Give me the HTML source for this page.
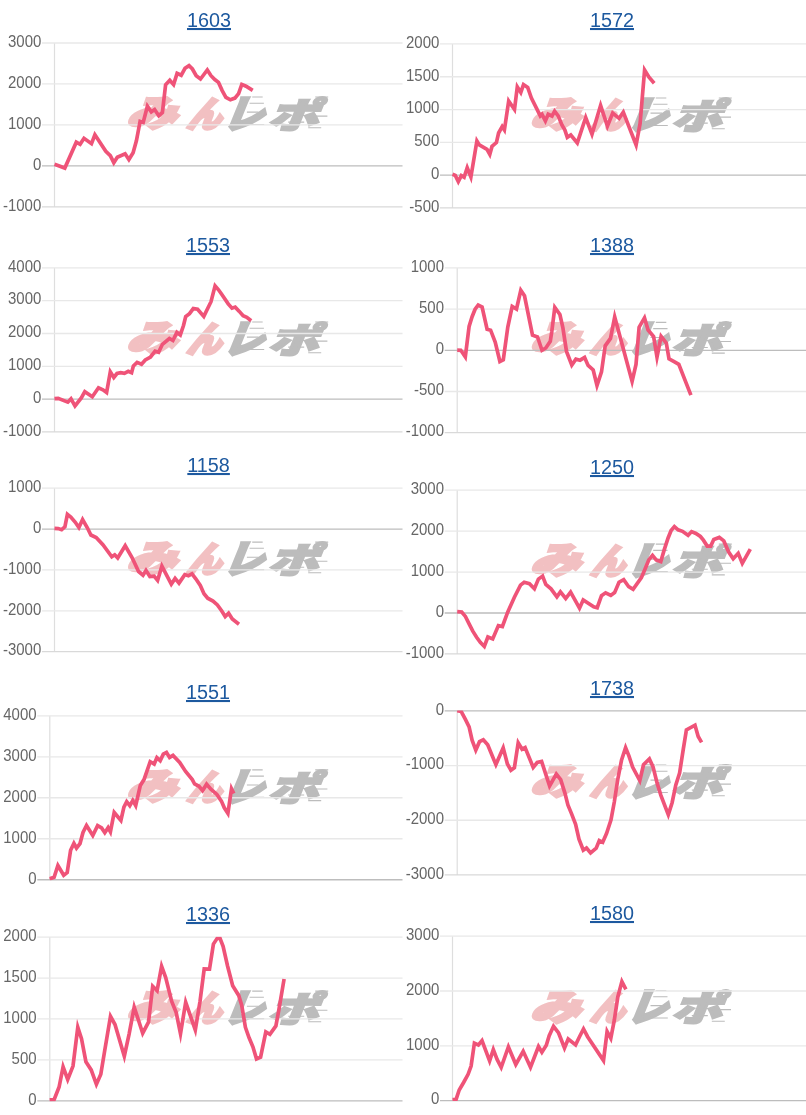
<!DOCTYPE html>
<html lang="ja"><head><meta charset="utf-8"><title>みんレポ</title>
<style>
html,body{margin:0;padding:0;background:#fff}
body{width:806px;height:1115px;position:relative;overflow:hidden;font-family:"Liberation Sans","Noto Sans CJK JP",sans-serif}
svg{position:absolute;left:0;top:0}
.lb{font-size:15px;fill:#666;text-anchor:end}
a.tt{position:absolute;font-size:19.8px;line-height:24px;color:#1d599f;text-decoration:underline;text-decoration-thickness:2px;text-underline-offset:1px;transform:translateX(-50%) scaleY(1.04);transform-origin:50% 85%;white-space:nowrap}
.wm{font-family:"Noto Sans CJK JP","Liberation Sans",sans-serif;font-weight:900}
.ln{fill:none;stroke:#ef5378;stroke-width:3.7;stroke-linejoin:miter;stroke-miterlimit:10;stroke-linecap:butt}
</style></head><body>
<svg width="806" height="1115" viewBox="0 0 806 1115">
<g>
<text class="wm" transform="translate(128.2,96.1) skewX(-22)"><tspan x="10.23" y="29.90" font-size="35.71" textLength="49.53" lengthAdjust="spacingAndGlyphs" fill="#f2c0c2" stroke="#f2c0c2" stroke-width="3.2">み</tspan><tspan x="70.32" y="30.50" font-size="35.14" textLength="34.05" lengthAdjust="spacingAndGlyphs" fill="#f2c0c2" stroke="#f2c0c2" stroke-width="3.2">ん</tspan><tspan x="106.40" y="31.55" font-size="39.67" textLength="40.78" lengthAdjust="spacingAndGlyphs" fill="#bcbcbc" stroke="#bcbcbc" stroke-width="2.6">レ</tspan><tspan x="152.12" y="31.85" font-size="35.3" textLength="50.34" lengthAdjust="spacingAndGlyphs" fill="#bcbcbc" stroke="#bcbcbc" stroke-width="2.2">ポ</tspan></text>
<path d="M252.2 97.0H262.7M249.6 103.2H263.9M246.9 112.1H258.5M240.2 124.5H264.2M315.2 97.0H328.2M306.9 105.2H320.6M298.2 110.7H320.6M315.2 116.1H327.4M308.2 127.7H321.2M288.2 122.1H304.2" stroke="#bcbcbc" stroke-width="1.1" fill="none"/>
<line x1="54.5" y1="43.0" x2="54.5" y2="206.8" stroke="#dedede" stroke-width="1.2"/>
<line x1="42.0" y1="43.0" x2="402.5" y2="43.0" stroke="#e8e8e8" stroke-width="1.3"/>
<text class="lb" transform="translate(41.3,46.7) scale(1,1.05)">3000</text>
<line x1="42.0" y1="83.95" x2="402.5" y2="83.95" stroke="#e8e8e8" stroke-width="1.3"/>
<text class="lb" transform="translate(41.3,87.7) scale(1,1.05)">2000</text>
<line x1="42.0" y1="124.9" x2="402.5" y2="124.9" stroke="#e8e8e8" stroke-width="1.3"/>
<text class="lb" transform="translate(41.3,128.6) scale(1,1.05)">1000</text>
<line x1="42.0" y1="165.85" x2="402.5" y2="165.85" stroke="#bdbdbd" stroke-width="1.3"/>
<text class="lb" transform="translate(41.3,169.5) scale(1,1.05)">0</text>
<line x1="42.0" y1="206.8" x2="402.5" y2="206.8" stroke="#d9d9d9" stroke-width="1.3"/>
<text class="lb" transform="translate(41.3,210.5) scale(1,1.05)">-1000</text>
<clipPath id="c1603"><rect x="54.0" y="42.7" width="349.0" height="164.6"/></clipPath>
<polyline class="ln" clip-path="url(#c1603)" points="54.5,164.3 64.8,168.1 76.3,142.2 80.1,144.3 84.0,138.3 91.5,143.7 94.9,134.8 105.8,151.2 110.3,155.7 113.8,162.7 117.3,157.2 125.1,153.8 128.9,159.5 133.1,152.7 136.4,140.8 140.1,121.4 143.2,122.4 147.4,106.2 151.3,111.8 154.6,109.5 158.8,115.7 162.4,112.5 165.6,84.7 169.8,80.2 173.6,84.6 177.1,73.4 181.2,75.3 185.0,68.3 189.0,65.6 192.4,69.0 196.2,75.7 200.5,79.0 207.3,69.9 211.0,75.7 214.8,79.5 218.5,82.4 222.2,90.6 225.9,97.3 230.4,99.8 234.9,98.1 238.6,93.6 241.8,84.4 246.0,86.2 252.7,90.3"/>
</g>
<g>
<text class="wm" transform="translate(531.8,97.1) skewX(-22)"><tspan x="10.23" y="29.90" font-size="35.71" textLength="49.53" lengthAdjust="spacingAndGlyphs" fill="#f2c0c2" stroke="#f2c0c2" stroke-width="3.2">み</tspan><tspan x="70.32" y="30.50" font-size="35.14" textLength="34.05" lengthAdjust="spacingAndGlyphs" fill="#f2c0c2" stroke="#f2c0c2" stroke-width="3.2">ん</tspan><tspan x="106.40" y="31.55" font-size="39.67" textLength="40.78" lengthAdjust="spacingAndGlyphs" fill="#bcbcbc" stroke="#bcbcbc" stroke-width="2.6">レ</tspan><tspan x="152.12" y="31.85" font-size="35.3" textLength="50.34" lengthAdjust="spacingAndGlyphs" fill="#bcbcbc" stroke="#bcbcbc" stroke-width="2.2">ポ</tspan></text>
<path d="M655.8 98.0H666.3M653.2 104.2H667.5M650.5 113.1H662.1M643.8 125.5H667.8M718.8 98.0H731.8M710.5 106.2H724.2M701.8 111.7H724.2M718.8 117.1H731.0M711.8 128.7H724.8M691.8 123.1H707.8" stroke="#bcbcbc" stroke-width="1.1" fill="none"/>
<line x1="452.5" y1="43.96" x2="452.5" y2="207.9" stroke="#dedede" stroke-width="1.2"/>
<line x1="440.0" y1="43.96" x2="806" y2="43.96" stroke="#e8e8e8" stroke-width="1.3"/>
<text class="lb" transform="translate(439.3,47.7) scale(1,1.05)">2000</text>
<line x1="440.0" y1="76.75" x2="806" y2="76.75" stroke="#e8e8e8" stroke-width="1.3"/>
<text class="lb" transform="translate(439.3,80.5) scale(1,1.05)">1500</text>
<line x1="440.0" y1="109.54" x2="806" y2="109.54" stroke="#e8e8e8" stroke-width="1.3"/>
<text class="lb" transform="translate(439.3,113.2) scale(1,1.05)">1000</text>
<line x1="440.0" y1="142.32" x2="806" y2="142.32" stroke="#e8e8e8" stroke-width="1.3"/>
<text class="lb" transform="translate(439.3,146.0) scale(1,1.05)">500</text>
<line x1="440.0" y1="175.11" x2="806" y2="175.11" stroke="#bdbdbd" stroke-width="1.3"/>
<text class="lb" transform="translate(439.3,178.8) scale(1,1.05)">0</text>
<line x1="440.0" y1="207.9" x2="806" y2="207.9" stroke="#d9d9d9" stroke-width="1.3"/>
<text class="lb" transform="translate(439.3,211.6) scale(1,1.05)">-500</text>
<clipPath id="c1572"><rect x="452.0" y="43.660000000000004" width="354.5" height="164.7"/></clipPath>
<polyline class="ln" clip-path="url(#c1572)" points="452.5,174.3 455.3,175.5 458.3,181.6 461.3,175.6 464.1,177.2 467.2,167.7 470.9,177.0 476.9,140.9 479.3,144.9 487.0,149.3 489.8,154.4 492.0,146.4 496.4,142.6 498.6,133.0 502.2,126.5 504.4,129.9 508.7,101.0 514.5,109.5 517.3,86.8 520.8,92.4 523.5,84.6 527.7,87.5 531.4,98.0 540.3,115.9 542.0,114.3 545.4,120.9 548.2,114.3 552.0,116.0 554.6,111.1 558.2,115.9 561.9,124.9 564.9,130.1 567.3,137.4 570.8,135.0 577.3,142.9 579.8,135.3 585.7,117.5 592.0,134.2 600.6,105.4 607.4,126.2 612.7,113.0 619.1,118.3 623.3,112.1 636.1,145.0 640.1,123.4 644.6,70.0 649.0,77.2 654.2,83.2"/>
</g>
<g>
<text class="wm" transform="translate(128.2,321.1) skewX(-22)"><tspan x="10.23" y="29.90" font-size="35.71" textLength="49.53" lengthAdjust="spacingAndGlyphs" fill="#f2c0c2" stroke="#f2c0c2" stroke-width="3.2">み</tspan><tspan x="70.32" y="30.50" font-size="35.14" textLength="34.05" lengthAdjust="spacingAndGlyphs" fill="#f2c0c2" stroke="#f2c0c2" stroke-width="3.2">ん</tspan><tspan x="106.40" y="31.55" font-size="39.67" textLength="40.78" lengthAdjust="spacingAndGlyphs" fill="#bcbcbc" stroke="#bcbcbc" stroke-width="2.6">レ</tspan><tspan x="152.12" y="31.85" font-size="35.3" textLength="50.34" lengthAdjust="spacingAndGlyphs" fill="#bcbcbc" stroke="#bcbcbc" stroke-width="2.2">ポ</tspan></text>
<path d="M252.2 322.0H262.7M249.6 328.2H263.9M246.9 337.1H258.5M240.2 349.5H264.2M315.2 322.0H328.2M306.9 330.2H320.6M298.2 335.7H320.6M315.2 341.1H327.4M308.2 352.7H321.2M288.2 347.1H304.2" stroke="#bcbcbc" stroke-width="1.1" fill="none"/>
<line x1="54.5" y1="267.9" x2="54.5" y2="431.9" stroke="#dedede" stroke-width="1.2"/>
<line x1="42.0" y1="267.9" x2="402.5" y2="267.9" stroke="#e8e8e8" stroke-width="1.3"/>
<text class="lb" transform="translate(41.3,271.6) scale(1,1.05)">4000</text>
<line x1="42.0" y1="300.7" x2="402.5" y2="300.7" stroke="#e8e8e8" stroke-width="1.3"/>
<text class="lb" transform="translate(41.3,304.4) scale(1,1.05)">3000</text>
<line x1="42.0" y1="333.5" x2="402.5" y2="333.5" stroke="#e8e8e8" stroke-width="1.3"/>
<text class="lb" transform="translate(41.3,337.2) scale(1,1.05)">2000</text>
<line x1="42.0" y1="366.3" x2="402.5" y2="366.3" stroke="#e8e8e8" stroke-width="1.3"/>
<text class="lb" transform="translate(41.3,370.0) scale(1,1.05)">1000</text>
<line x1="42.0" y1="399.1" x2="402.5" y2="399.1" stroke="#bdbdbd" stroke-width="1.3"/>
<text class="lb" transform="translate(41.3,402.8) scale(1,1.05)">0</text>
<line x1="42.0" y1="431.9" x2="402.5" y2="431.9" stroke="#d9d9d9" stroke-width="1.3"/>
<text class="lb" transform="translate(41.3,435.6) scale(1,1.05)">-1000</text>
<clipPath id="c1553"><rect x="54.0" y="267.59999999999997" width="349.0" height="164.8"/></clipPath>
<polyline class="ln" clip-path="url(#c1553)" points="54.5,398.7 58.2,398.4 67.8,402.2 71.0,398.9 75.0,405.9 81.3,397.9 84.8,391.7 92.3,396.7 98.5,387.8 102.9,389.8 106.6,392.5 110.3,371.8 113.8,377.5 117.0,373.5 120.7,372.6 124.4,373.3 128.2,371.3 131.6,372.8 133.4,365.9 137.1,362.4 141.5,364.2 145.3,360.0 150.5,357.0 155.1,351.2 158.6,352.2 162.4,344.3 169.4,338.5 172.9,340.5 176.9,332.4 180.3,334.9 183.5,325.5 185.7,316.6 189.5,313.6 193.3,308.6 197.6,309.2 203.8,316.4 211.0,301.7 215.1,285.9 218.5,289.8 222.2,295.0 228.2,303.9 232.0,308.2 235.2,307.1 239.3,311.4 243.1,315.8 246.8,317.3 251.2,320.7"/>
</g>
<g>
<text class="wm" transform="translate(531.8,321.5) skewX(-22)"><tspan x="10.23" y="29.90" font-size="35.71" textLength="49.53" lengthAdjust="spacingAndGlyphs" fill="#f2c0c2" stroke="#f2c0c2" stroke-width="3.2">み</tspan><tspan x="70.32" y="30.50" font-size="35.14" textLength="34.05" lengthAdjust="spacingAndGlyphs" fill="#f2c0c2" stroke="#f2c0c2" stroke-width="3.2">ん</tspan><tspan x="106.40" y="31.55" font-size="39.67" textLength="40.78" lengthAdjust="spacingAndGlyphs" fill="#bcbcbc" stroke="#bcbcbc" stroke-width="2.6">レ</tspan><tspan x="152.12" y="31.85" font-size="35.3" textLength="50.34" lengthAdjust="spacingAndGlyphs" fill="#bcbcbc" stroke="#bcbcbc" stroke-width="2.2">ポ</tspan></text>
<path d="M655.8 322.4H666.3M653.2 328.6H667.5M650.5 337.5H662.1M643.8 349.9H667.8M718.8 322.4H731.8M710.5 330.6H724.2M701.8 336.1H724.2M718.8 341.5H731.0M711.8 353.1H724.8M691.8 347.5H707.8" stroke="#bcbcbc" stroke-width="1.1" fill="none"/>
<line x1="457.2" y1="267.9" x2="457.2" y2="432.7" stroke="#dedede" stroke-width="1.2"/>
<line x1="444.7" y1="267.9" x2="806" y2="267.9" stroke="#e8e8e8" stroke-width="1.3"/>
<text class="lb" transform="translate(444.0,271.6) scale(1,1.05)">1000</text>
<line x1="444.7" y1="309.1" x2="806" y2="309.1" stroke="#e8e8e8" stroke-width="1.3"/>
<text class="lb" transform="translate(444.0,312.8) scale(1,1.05)">500</text>
<line x1="444.7" y1="350.3" x2="806" y2="350.3" stroke="#bdbdbd" stroke-width="1.3"/>
<text class="lb" transform="translate(444.0,354.0) scale(1,1.05)">0</text>
<line x1="444.7" y1="391.5" x2="806" y2="391.5" stroke="#e8e8e8" stroke-width="1.3"/>
<text class="lb" transform="translate(444.0,395.2) scale(1,1.05)">-500</text>
<line x1="444.7" y1="432.7" x2="806" y2="432.7" stroke="#d9d9d9" stroke-width="1.3"/>
<text class="lb" transform="translate(444.0,436.4) scale(1,1.05)">-1000</text>
<clipPath id="c1388"><rect x="456.7" y="267.59999999999997" width="349.8" height="165.6"/></clipPath>
<polyline class="ln" clip-path="url(#c1388)" points="457.2,350.2 460.8,350.3 465.3,356.9 469.1,326.4 472.1,316.7 475.1,309.2 478.2,305.1 482.1,307.1 487.1,329.2 490.6,330.2 495.2,342.0 499.9,361.5 503.3,359.8 507.8,327.1 512.2,306.4 516.5,309.0 520.8,290.3 524.5,295.8 532.5,335.2 537.5,336.9 542.0,350.3 545.8,348.0 550.3,341.3 551.8,331.6 554.8,307.4 559.9,314.5 562.9,327.9 566.5,351.4 571.8,365.0 575.9,359.2 580.1,360.2 584.6,357.5 588.1,365.4 593.2,370.0 597.0,385.5 601.5,371.9 605.2,345.8 610.5,338.4 614.7,317.0 632.1,381.4 636.0,364.4 639.1,327.2 644.5,317.8 648.1,330.0 653.6,336.5 657.0,357.1 661.1,336.4 666.3,343.0 669.0,358.8 674.1,361.7 678.8,364.4 690.9,395.1"/>
</g>
<g>
<text class="wm" transform="translate(128.2,541.2) skewX(-22)"><tspan x="10.23" y="29.90" font-size="35.71" textLength="49.53" lengthAdjust="spacingAndGlyphs" fill="#f2c0c2" stroke="#f2c0c2" stroke-width="3.2">み</tspan><tspan x="70.32" y="30.50" font-size="35.14" textLength="34.05" lengthAdjust="spacingAndGlyphs" fill="#f2c0c2" stroke="#f2c0c2" stroke-width="3.2">ん</tspan><tspan x="106.40" y="31.55" font-size="39.67" textLength="40.78" lengthAdjust="spacingAndGlyphs" fill="#bcbcbc" stroke="#bcbcbc" stroke-width="2.6">レ</tspan><tspan x="152.12" y="31.85" font-size="35.3" textLength="50.34" lengthAdjust="spacingAndGlyphs" fill="#bcbcbc" stroke="#bcbcbc" stroke-width="2.2">ポ</tspan></text>
<path d="M252.2 542.1H262.7M249.6 548.3H263.9M246.9 557.2H258.5M240.2 569.6H264.2M315.2 542.1H328.2M306.9 550.3H320.6M298.2 555.8H320.6M315.2 561.2H327.4M308.2 572.8H321.2M288.2 567.2H304.2" stroke="#bcbcbc" stroke-width="1.1" fill="none"/>
<line x1="54.5" y1="488.2" x2="54.5" y2="651.7" stroke="#dedede" stroke-width="1.2"/>
<line x1="42.0" y1="488.2" x2="402.5" y2="488.2" stroke="#e8e8e8" stroke-width="1.3"/>
<text class="lb" transform="translate(41.3,491.9) scale(1,1.05)">1000</text>
<line x1="42.0" y1="529.08" x2="402.5" y2="529.08" stroke="#bdbdbd" stroke-width="1.3"/>
<text class="lb" transform="translate(41.3,532.8) scale(1,1.05)">0</text>
<line x1="42.0" y1="569.95" x2="402.5" y2="569.95" stroke="#e8e8e8" stroke-width="1.3"/>
<text class="lb" transform="translate(41.3,573.7) scale(1,1.05)">-1000</text>
<line x1="42.0" y1="610.83" x2="402.5" y2="610.83" stroke="#e8e8e8" stroke-width="1.3"/>
<text class="lb" transform="translate(41.3,614.5) scale(1,1.05)">-2000</text>
<line x1="42.0" y1="651.7" x2="402.5" y2="651.7" stroke="#d9d9d9" stroke-width="1.3"/>
<text class="lb" transform="translate(41.3,655.4) scale(1,1.05)">-3000</text>
<clipPath id="c1158"><rect x="54.0" y="487.9" width="349.0" height="164.3"/></clipPath>
<polyline class="ln" clip-path="url(#c1158)" points="54.5,528.3 58.2,528.6 61.6,529.7 64.9,526.8 67.4,514.4 70.8,517.1 75.3,522.3 78.9,527.6 82.6,519.5 87.2,527.5 90.9,535.0 96.2,537.5 102.9,544.7 111.8,556.8 114.7,554.8 117.7,557.9 125.2,545.7 131.9,557.3 138.6,571.5 143.0,575.2 146.0,570.5 149.9,576.5 154.1,576.1 157.6,580.4 161.9,566.1 171.3,584.2 175.1,578.4 179.0,583.1 184.8,574.6 188.4,575.7 192.0,573.9 195.8,578.8 200.3,585.5 204.0,593.7 207.7,598.2 213.0,601.1 217.4,604.9 221.6,610.8 225.2,616.6 228.6,613.2 232.3,619.0 239.0,624.2"/>
</g>
<g>
<text class="wm" transform="translate(531.8,543.2) skewX(-22)"><tspan x="10.23" y="29.90" font-size="35.71" textLength="49.53" lengthAdjust="spacingAndGlyphs" fill="#f2c0c2" stroke="#f2c0c2" stroke-width="3.2">み</tspan><tspan x="70.32" y="30.50" font-size="35.14" textLength="34.05" lengthAdjust="spacingAndGlyphs" fill="#f2c0c2" stroke="#f2c0c2" stroke-width="3.2">ん</tspan><tspan x="106.40" y="31.55" font-size="39.67" textLength="40.78" lengthAdjust="spacingAndGlyphs" fill="#bcbcbc" stroke="#bcbcbc" stroke-width="2.6">レ</tspan><tspan x="152.12" y="31.85" font-size="35.3" textLength="50.34" lengthAdjust="spacingAndGlyphs" fill="#bcbcbc" stroke="#bcbcbc" stroke-width="2.2">ポ</tspan></text>
<path d="M655.8 544.1H666.3M653.2 550.4H667.5M650.5 559.2H662.1M643.8 571.6H667.8M718.8 544.1H731.8M710.5 552.4H724.2M701.8 557.9H724.2M718.8 563.2H731.0M711.8 574.9H724.8M691.8 569.2H707.8" stroke="#bcbcbc" stroke-width="1.1" fill="none"/>
<line x1="457.2" y1="490.2" x2="457.2" y2="653.9" stroke="#dedede" stroke-width="1.2"/>
<line x1="444.7" y1="490.2" x2="806" y2="490.2" stroke="#e8e8e8" stroke-width="1.3"/>
<text class="lb" transform="translate(444.0,493.9) scale(1,1.05)">3000</text>
<line x1="444.7" y1="531.12" x2="806" y2="531.12" stroke="#e8e8e8" stroke-width="1.3"/>
<text class="lb" transform="translate(444.0,534.8) scale(1,1.05)">2000</text>
<line x1="444.7" y1="572.05" x2="806" y2="572.05" stroke="#e8e8e8" stroke-width="1.3"/>
<text class="lb" transform="translate(444.0,575.8) scale(1,1.05)">1000</text>
<line x1="444.7" y1="612.98" x2="806" y2="612.98" stroke="#bdbdbd" stroke-width="1.3"/>
<text class="lb" transform="translate(444.0,616.7) scale(1,1.05)">0</text>
<line x1="444.7" y1="653.9" x2="806" y2="653.9" stroke="#d9d9d9" stroke-width="1.3"/>
<text class="lb" transform="translate(444.0,657.6) scale(1,1.05)">-1000</text>
<clipPath id="c1250"><rect x="456.7" y="489.9" width="349.8" height="164.5"/></clipPath>
<polyline class="ln" clip-path="url(#c1250)" points="457.2,611.6 461.7,612.0 465.4,616.4 469.1,623.8 472.8,631.2 476.6,637.2 480.3,642.4 484.3,646.5 487.9,637.0 492.7,638.9 498.4,625.6 502.4,626.5 507.8,611.9 514.5,597.0 520.5,585.1 524.2,582.2 529.4,583.6 534.4,588.7 538.4,579.1 542.6,576.1 545.8,584.3 551.0,588.8 556.9,596.8 560.4,591.9 565.7,598.5 570.6,592.1 579.5,608.2 583.2,599.9 593.7,606.8 597.2,607.7 601.5,595.6 605.6,592.8 610.8,595.4 614.6,592.6 619.0,582.2 623.7,579.6 628.7,586.7 633.1,589.3 641.4,577.7 645.8,567.3 648.8,559.9 652.5,555.4 656.2,559.9 660.8,561.6 664.2,549.9 668.1,538.0 671.1,530.5 674.4,526.6 678.1,529.8 682.5,531.3 688.1,535.3 691.6,531.6 695.9,533.5 700.4,536.5 703.4,540.2 707.2,546.1 710.7,546.1 713.8,539.5 719.3,537.4 723.8,540.9 728.7,552.1 733.2,558.8 738.2,553.3 742.3,563.3 750.3,549.1"/>
</g>
<g>
<text class="wm" transform="translate(128.2,769.0) skewX(-22)"><tspan x="10.23" y="29.90" font-size="35.71" textLength="49.53" lengthAdjust="spacingAndGlyphs" fill="#f2c0c2" stroke="#f2c0c2" stroke-width="3.2">み</tspan><tspan x="70.32" y="30.50" font-size="35.14" textLength="34.05" lengthAdjust="spacingAndGlyphs" fill="#f2c0c2" stroke="#f2c0c2" stroke-width="3.2">ん</tspan><tspan x="106.40" y="31.55" font-size="39.67" textLength="40.78" lengthAdjust="spacingAndGlyphs" fill="#bcbcbc" stroke="#bcbcbc" stroke-width="2.6">レ</tspan><tspan x="152.12" y="31.85" font-size="35.3" textLength="50.34" lengthAdjust="spacingAndGlyphs" fill="#bcbcbc" stroke="#bcbcbc" stroke-width="2.2">ポ</tspan></text>
<path d="M252.2 769.9H262.7M249.6 776.1H263.9M246.9 785.0H258.5M240.2 797.4H264.2M315.2 769.9H328.2M306.9 778.1H320.6M298.2 783.6H320.6M315.2 789.0H327.4M308.2 800.6H321.2M288.2 795.0H304.2" stroke="#bcbcbc" stroke-width="1.1" fill="none"/>
<line x1="49.8" y1="715.8" x2="49.8" y2="879.75" stroke="#dedede" stroke-width="1.2"/>
<line x1="37.3" y1="715.8" x2="402.5" y2="715.8" stroke="#e8e8e8" stroke-width="1.3"/>
<text class="lb" transform="translate(36.6,719.5) scale(1,1.05)">4000</text>
<line x1="37.3" y1="756.79" x2="402.5" y2="756.79" stroke="#e8e8e8" stroke-width="1.3"/>
<text class="lb" transform="translate(36.6,760.5) scale(1,1.05)">3000</text>
<line x1="37.3" y1="797.77" x2="402.5" y2="797.77" stroke="#e8e8e8" stroke-width="1.3"/>
<text class="lb" transform="translate(36.6,801.5) scale(1,1.05)">2000</text>
<line x1="37.3" y1="838.76" x2="402.5" y2="838.76" stroke="#e8e8e8" stroke-width="1.3"/>
<text class="lb" transform="translate(36.6,842.5) scale(1,1.05)">1000</text>
<line x1="37.3" y1="879.75" x2="402.5" y2="879.75" stroke="#bdbdbd" stroke-width="1.3"/>
<text class="lb" transform="translate(36.6,883.5) scale(1,1.05)">0</text>
<clipPath id="c1551"><rect x="49.3" y="715.5" width="353.7" height="164.8"/></clipPath>
<polyline class="ln" clip-path="url(#c1551)" points="49.5,878.9 54.1,877.3 57.9,865.5 63.7,875.3 67.2,872.6 70.6,850.3 73.9,843.4 76.5,848.2 80.0,843.6 83.0,832.4 86.5,825.5 92.8,835.5 97.6,825.6 101.6,828.0 104.8,832.7 108.1,827.7 110.4,831.9 114.2,812.5 120.9,820.5 123.9,807.1 126.7,801.7 129.8,805.6 132.8,800.4 135.7,805.6 140.3,785.5 144.0,779.6 150.2,761.7 154.2,764.0 156.9,757.7 160.2,760.7 163.3,754.2 166.5,752.5 169.6,757.4 173.0,755.4 179.7,762.4 185.6,771.4 192.3,779.6 194.6,784.0 199.0,786.3 202.6,790.6 206.6,784.2 210.9,789.2 216.9,794.4 221.4,801.1 224.3,807.8 227.9,813.4 231.5,788.7 233.8,793.5"/>
</g>
<g>
<text class="wm" transform="translate(531.8,764.1) skewX(-22)"><tspan x="10.23" y="29.90" font-size="35.71" textLength="49.53" lengthAdjust="spacingAndGlyphs" fill="#f2c0c2" stroke="#f2c0c2" stroke-width="3.2">み</tspan><tspan x="70.32" y="30.50" font-size="35.14" textLength="34.05" lengthAdjust="spacingAndGlyphs" fill="#f2c0c2" stroke="#f2c0c2" stroke-width="3.2">ん</tspan><tspan x="106.40" y="31.55" font-size="39.67" textLength="40.78" lengthAdjust="spacingAndGlyphs" fill="#bcbcbc" stroke="#bcbcbc" stroke-width="2.6">レ</tspan><tspan x="152.12" y="31.85" font-size="35.3" textLength="50.34" lengthAdjust="spacingAndGlyphs" fill="#bcbcbc" stroke="#bcbcbc" stroke-width="2.2">ポ</tspan></text>
<path d="M655.8 765.0H666.3M653.2 771.2H667.5M650.5 780.1H662.1M643.8 792.5H667.8M718.8 765.0H731.8M710.5 773.2H724.2M701.8 778.7H724.2M718.8 784.1H731.0M711.8 795.7H724.8M691.8 790.1H707.8" stroke="#bcbcbc" stroke-width="1.1" fill="none"/>
<line x1="457.2" y1="710.9" x2="457.2" y2="874.9" stroke="#dedede" stroke-width="1.2"/>
<line x1="444.7" y1="710.9" x2="806" y2="710.9" stroke="#bdbdbd" stroke-width="1.3"/>
<text class="lb" transform="translate(444.0,714.6) scale(1,1.05)">0</text>
<line x1="444.7" y1="765.57" x2="806" y2="765.57" stroke="#e8e8e8" stroke-width="1.3"/>
<text class="lb" transform="translate(444.0,769.3) scale(1,1.05)">-1000</text>
<line x1="444.7" y1="820.23" x2="806" y2="820.23" stroke="#e8e8e8" stroke-width="1.3"/>
<text class="lb" transform="translate(444.0,823.9) scale(1,1.05)">-2000</text>
<line x1="444.7" y1="874.9" x2="806" y2="874.9" stroke="#d9d9d9" stroke-width="1.3"/>
<text class="lb" transform="translate(444.0,878.6) scale(1,1.05)">-3000</text>
<clipPath id="c1738"><rect x="456.7" y="710.6" width="349.8" height="164.8"/></clipPath>
<polyline class="ln" clip-path="url(#c1738)" points="457.2,710.7 461.1,711.3 465.4,719.4 469.1,726.8 472.1,740.2 475.8,750.1 479.5,741.7 483.3,739.8 487.7,744.7 495.9,764.6 503.2,747.8 507.4,764.0 510.9,770.2 514.4,767.7 518.2,742.8 522.1,749.2 525.1,747.6 533.2,767.4 537.2,762.5 541.6,761.4 545.8,774.4 549.6,786.0 556.3,774.0 560.7,779.7 564.9,793.1 567.9,805.0 571.6,813.9 575.6,824.3 579.0,839.2 583.3,850.2 586.5,848.0 590.6,852.9 596.2,848.2 599.3,840.6 602.7,842.3 606.6,833.3 611.0,819.9 614.3,802.0 617.7,779.7 621.5,760.3 625.6,747.7 628.9,755.8 632.6,767.0 639.8,780.6 643.5,764.8 649.4,758.9 653.1,767.0 657.2,783.4 660.9,795.3 668.3,814.6 672.1,802.7 675.8,784.9 679.6,773.0 683.3,749.1 686.4,729.9 695.0,725.2 698.2,736.5 701.6,742.4"/>
</g>
<g>
<text class="wm" transform="translate(128.2,990.2) skewX(-22)"><tspan x="10.23" y="29.90" font-size="35.71" textLength="49.53" lengthAdjust="spacingAndGlyphs" fill="#f2c0c2" stroke="#f2c0c2" stroke-width="3.2">み</tspan><tspan x="70.32" y="30.50" font-size="35.14" textLength="34.05" lengthAdjust="spacingAndGlyphs" fill="#f2c0c2" stroke="#f2c0c2" stroke-width="3.2">ん</tspan><tspan x="106.40" y="31.55" font-size="39.67" textLength="40.78" lengthAdjust="spacingAndGlyphs" fill="#bcbcbc" stroke="#bcbcbc" stroke-width="2.6">レ</tspan><tspan x="152.12" y="31.85" font-size="35.3" textLength="50.34" lengthAdjust="spacingAndGlyphs" fill="#bcbcbc" stroke="#bcbcbc" stroke-width="2.2">ポ</tspan></text>
<path d="M252.2 991.1H262.7M249.6 997.3H263.9M246.9 1006.2H258.5M240.2 1018.6H264.2M315.2 991.1H328.2M306.9 999.3H320.6M298.2 1004.8H320.6M315.2 1010.2H327.4M308.2 1021.8H321.2M288.2 1016.2H304.2" stroke="#bcbcbc" stroke-width="1.1" fill="none"/>
<line x1="49.8" y1="937.1" x2="49.8" y2="1100.85" stroke="#dedede" stroke-width="1.2"/>
<line x1="37.3" y1="937.1" x2="402.5" y2="937.1" stroke="#e8e8e8" stroke-width="1.3"/>
<text class="lb" transform="translate(36.6,940.8) scale(1,1.05)">2000</text>
<line x1="37.3" y1="978.04" x2="402.5" y2="978.04" stroke="#e8e8e8" stroke-width="1.3"/>
<text class="lb" transform="translate(36.6,981.7) scale(1,1.05)">1500</text>
<line x1="37.3" y1="1018.97" x2="402.5" y2="1018.97" stroke="#e8e8e8" stroke-width="1.3"/>
<text class="lb" transform="translate(36.6,1022.7) scale(1,1.05)">1000</text>
<line x1="37.3" y1="1059.91" x2="402.5" y2="1059.91" stroke="#e8e8e8" stroke-width="1.3"/>
<text class="lb" transform="translate(36.6,1063.6) scale(1,1.05)">500</text>
<line x1="37.3" y1="1100.85" x2="402.5" y2="1100.85" stroke="#bdbdbd" stroke-width="1.3"/>
<text class="lb" transform="translate(36.6,1104.5) scale(1,1.05)">0</text>
<clipPath id="c1336"><rect x="49.3" y="936.8000000000001" width="353.7" height="164.5"/></clipPath>
<polyline class="ln" clip-path="url(#c1336)" points="49.5,1099.9 54.1,1099.7 59.1,1087.0 63.1,1066.9 67.7,1079.5 73.0,1066.1 77.8,1027.3 81.5,1038.6 85.9,1061.7 91.2,1069.9 96.4,1084.3 100.8,1074.3 104.6,1051.3 110.5,1016.3 115.0,1024.5 124.3,1056.2 129.1,1034.1 134.2,1007.1 142.7,1033.2 148.5,1022.2 152.7,986.2 157.1,990.7 161.6,966.3 165.7,977.6 171.7,1001.5 176.2,1012.6 180.5,1033.7 185.7,1002.2 195.3,1030.0 200.0,1001.5 204.2,969.0 209.5,969.2 213.4,944.1 217.2,938.3 220.0,938.4 223.1,946.4 227.5,965.7 232.7,985.8 238.7,995.4 241.7,1005.1 245.4,1027.4 249.1,1037.8 252.9,1046.8 256.5,1058.9 260.6,1057.1 265.8,1032.0 269.9,1034.4 275.9,1025.9 278.9,1009.6 284.1,979.0"/>
</g>
<g>
<text class="wm" transform="translate(531.8,989.6) skewX(-22)"><tspan x="10.23" y="29.90" font-size="35.71" textLength="49.53" lengthAdjust="spacingAndGlyphs" fill="#f2c0c2" stroke="#f2c0c2" stroke-width="3.2">み</tspan><tspan x="70.32" y="30.50" font-size="35.14" textLength="34.05" lengthAdjust="spacingAndGlyphs" fill="#f2c0c2" stroke="#f2c0c2" stroke-width="3.2">ん</tspan><tspan x="106.40" y="31.55" font-size="39.67" textLength="40.78" lengthAdjust="spacingAndGlyphs" fill="#bcbcbc" stroke="#bcbcbc" stroke-width="2.6">レ</tspan><tspan x="152.12" y="31.85" font-size="35.3" textLength="50.34" lengthAdjust="spacingAndGlyphs" fill="#bcbcbc" stroke="#bcbcbc" stroke-width="2.2">ポ</tspan></text>
<path d="M655.8 990.5H666.3M653.2 996.7H667.5M650.5 1005.6H662.1M643.8 1018.0H667.8M718.8 990.5H731.8M710.5 998.7H724.2M701.8 1004.2H724.2M718.8 1009.6H731.0M711.8 1021.2H724.8M691.8 1015.6H707.8" stroke="#bcbcbc" stroke-width="1.1" fill="none"/>
<line x1="452.5" y1="936.2" x2="452.5" y2="1100.6" stroke="#dedede" stroke-width="1.2"/>
<line x1="440.0" y1="936.2" x2="806" y2="936.2" stroke="#e8e8e8" stroke-width="1.3"/>
<text class="lb" transform="translate(439.3,939.9) scale(1,1.05)">3000</text>
<line x1="440.0" y1="991.0" x2="806" y2="991.0" stroke="#e8e8e8" stroke-width="1.3"/>
<text class="lb" transform="translate(439.3,994.7) scale(1,1.05)">2000</text>
<line x1="440.0" y1="1045.8" x2="806" y2="1045.8" stroke="#e8e8e8" stroke-width="1.3"/>
<text class="lb" transform="translate(439.3,1049.5) scale(1,1.05)">1000</text>
<line x1="440.0" y1="1100.6" x2="806" y2="1100.6" stroke="#bdbdbd" stroke-width="1.3"/>
<text class="lb" transform="translate(439.3,1104.3) scale(1,1.05)">0</text>
<clipPath id="c1580"><rect x="452.0" y="935.9000000000001" width="354.5" height="165.2"/></clipPath>
<polyline class="ln" clip-path="url(#c1580)" points="452.5,1099.6 456.1,1099.4 459.2,1090.0 463.6,1082.5 468.1,1074.3 471.1,1066.1 474.4,1043.1 478.4,1044.9 482.0,1040.6 489.6,1061.0 493.3,1049.6 497.1,1059.4 501.2,1067.3 508.4,1046.8 515.8,1064.5 523.2,1051.3 530.5,1067.2 538.5,1046.5 541.9,1052.2 546.3,1045.3 549.2,1035.6 553.5,1026.3 558.6,1033.0 564.5,1048.0 568.2,1039.0 575.6,1044.9 579.5,1036.7 583.5,1029.0 587.6,1036.7 603.5,1060.5 607.1,1031.5 610.8,1038.4 614.3,1020.2 617.8,996.9 621.9,981.6 625.9,989.3"/>
</g>
</svg>
<a class="tt" href="#" style="left:209px;top:7.5px">1603</a>
<a class="tt" href="#" style="left:612px;top:7.5px">1572</a>
<a class="tt" href="#" style="left:208px;top:232.5px">1553</a>
<a class="tt" href="#" style="left:612px;top:232.5px">1388</a>
<a class="tt" href="#" style="left:208.6px;top:452.5px">1158</a>
<a class="tt" href="#" style="left:612px;top:454.5px">1250</a>
<a class="tt" href="#" style="left:208px;top:680.2px">1551</a>
<a class="tt" href="#" style="left:612px;top:675.5px">1738</a>
<a class="tt" href="#" style="left:208px;top:901.6px">1336</a>
<a class="tt" href="#" style="left:612px;top:900.5px">1580</a>
</body></html>
